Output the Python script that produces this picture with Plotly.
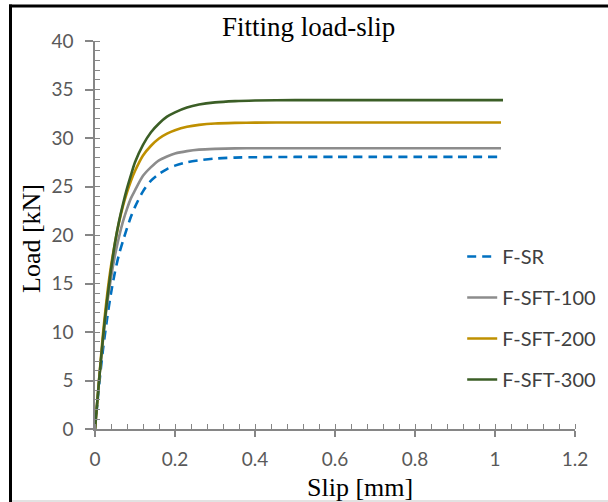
import plotly.graph_objects as go

# Slip [mm] and Load [kN]
slip_common = [0, 0.01, 0.02, 0.03, 0.04, 0.05, 0.06, 0.07, 0.08, 0.09, 0.10, 0.12, 0.14,
               0.16, 0.18, 0.20, 0.23, 0.26, 0.30, 0.35, 0.40, 0.50, 0.60, 0.70, 0.80, 0.90]

slip_sr = slip_common + [1.01]
load_sr = [0, 4.4, 8.2, 11.3, 14.0, 16.2, 18.0, 19.4, 20.7, 21.9, 22.9, 24.5, 25.6,
           26.3, 26.8, 27.15, 27.5, 27.7, 27.88, 27.98, 28.02, 28.05, 28.05, 28.05, 28.05, 28.05, 28.05]

slip_100 = slip_common + [1.015]
load_100 = [0, 5.0, 9.2, 12.8, 15.6, 17.9, 19.8, 21.4, 22.7, 23.8, 24.6, 26.1, 27.0,
            27.7, 28.1, 28.4, 28.65, 28.8, 28.88, 28.93, 28.95, 28.95, 28.95, 28.95, 28.95, 28.95, 28.95]

slip_200 = slip_common + [1.015]
load_200 = [0, 5.0, 9.8, 13.7, 16.8, 19.2, 21.3, 23.0, 24.4, 25.6, 26.6, 28.2, 29.2,
            29.95, 30.45, 30.8, 31.15, 31.35, 31.5, 31.56, 31.58, 31.6, 31.6, 31.6, 31.6, 31.6, 31.6]

slip_300 = slip_common + [1.02]
load_300 = [0, 4.9, 9.4, 13.2, 16.4, 19.2, 21.4, 23.2, 24.8, 26.2, 27.5, 29.3, 30.6,
            31.5, 32.2, 32.65, 33.15, 33.45, 33.67, 33.8, 33.86, 33.9, 33.9, 33.9, 33.9, 33.9, 33.9]

names = ["F-SR", "F-SFT-100", "F-SFT-200", "F-SFT-300"]
colors = ["#0070C0", "#8C8C8C", "#BF9000", "#3B5E26"]
dashes = ["9px,6px", "solid", "solid", "solid"]

x_ticks = [0, 0.2, 0.4, 0.6, 0.8, 1, 1.2]
x_tick_text = ["0", "0.2", "0.4", "0.6", "0.8", "1", "1.2"]
y_ticks = [0, 5, 10, 15, 20, 25, 30, 35, 40]

series = [(slip_sr, load_sr), (slip_100, load_100), (slip_200, load_200), (slip_300, load_300)]

fig = go.Figure()
for (xs, ys), n, c, d in zip(series, names, colors, dashes):
    fig.add_trace(go.Scatter(
        x=xs, y=ys, name=n, mode="lines", line_shape="spline",
        line=dict(color=c, width=2.6, dash=d, smoothing=0.8), legendgroup=n,
    ))

axis_col = "#868686"
tick_font = dict(family="Lato", size=19, color="#595959")

fig.update_layout(
    width=608, height=502,
    margin=dict(l=95, r=33, t=41, b=73, autoexpand=False),
    paper_bgcolor="white", plot_bgcolor="white",
    showlegend=True,
    legend=dict(
        x=0.765, y=0.495, xanchor="left", yanchor="top",
        font=dict(family="Lato", size=20, color="#404040"),
        bgcolor="rgba(0,0,0,0)", tracegroupgap=12, traceorder="grouped",
    ),
    xaxis=dict(
        range=[0, 1.2], tickvals=x_ticks, ticktext=x_tick_text, automargin=False,
        showgrid=False, zeroline=False, showline=True, linecolor=axis_col, linewidth=1.5,
        ticks="outside", ticklen=6, tickwidth=1.5, tickcolor=axis_col, ticklabelstandoff=6,
        minor=dict(dtick=0.04, ticks="inside", ticklen=5, tickwidth=1.2, tickcolor=axis_col),
        tickfont=tick_font, fixedrange=True,
    ),
    yaxis=dict(
        range=[0, 40], tickvals=y_ticks, automargin=False,
        showgrid=False, zeroline=False, showline=True, linecolor=axis_col, linewidth=1.5,
        ticks="outside", ticklen=8, tickwidth=1.5, tickcolor=axis_col, ticklabelstandoff=8,
        minor=dict(dtick=1, ticks="inside", ticklen=5, tickwidth=1.2, tickcolor=axis_col),
        tickfont=tick_font, fixedrange=True,
    ),
    xaxis2=dict(
        overlaying="x", matches="x", range=[0, 1.2], tickvals=x_ticks, anchor="y",
        showticklabels=False, showgrid=False, zeroline=False, showline=False,
        ticks="inside", ticklen=5, tickwidth=1.5, tickcolor=axis_col, automargin=False,
    ),
    yaxis2=dict(
        overlaying="y", matches="y", range=[0, 40], tickvals=y_ticks, anchor="x",
        showticklabels=False, showgrid=False, zeroline=False, showline=False,
        ticks="inside", ticklen=5, tickwidth=1.5, tickcolor=axis_col, automargin=False,
    ),
)

serif = "Liberation Serif, Times New Roman, serif"
fig.add_annotation(text="Fitting load-slip", xref="paper", yref="paper",
                   x=0.444, y=1.035, xanchor="center", yanchor="middle", showarrow=False,
                   font=dict(family=serif, size=27, color="black"))
fig.add_annotation(text="Slip [mm]", xref="paper", yref="paper",
                   x=0.552, y=-0.151, xanchor="center", yanchor="middle", showarrow=False,
                   font=dict(family=serif, size=26, color="black"))
fig.add_annotation(text="Load [kN]", xref="paper", yref="paper", textangle=-90,
                   x=-0.131, y=0.49, xanchor="center", yanchor="middle", showarrow=False,
                   font=dict(family=serif, size=26, color="black"))

# outer frame (top, left black; bottom light grey)
def px_x(p):
    return (p - 95) / 480.0

def px_y(p):
    return (428.5 - p) / 388.0

fig.add_shape(type="line", xref="paper", yref="paper", x0=px_x(9), x1=px_x(610), y0=px_y(5.5), y1=px_y(5.5),
              line=dict(color="black", width=3))
fig.add_shape(type="line", xref="paper", yref="paper", x0=px_x(10.5), x1=px_x(10.5), y0=px_y(4), y1=px_y(503),
              line=dict(color="black", width=3))
fig.add_shape(type="line", xref="paper", yref="paper", x0=px_x(12), x1=px_x(610), y0=px_y(500.5), y1=px_y(500.5),
              line=dict(color="#D9D9D9", width=1.5))

fig.write_html("out.html", post_script="document.body.style.margin='0px';",
               config={"displayModeBar": False})
